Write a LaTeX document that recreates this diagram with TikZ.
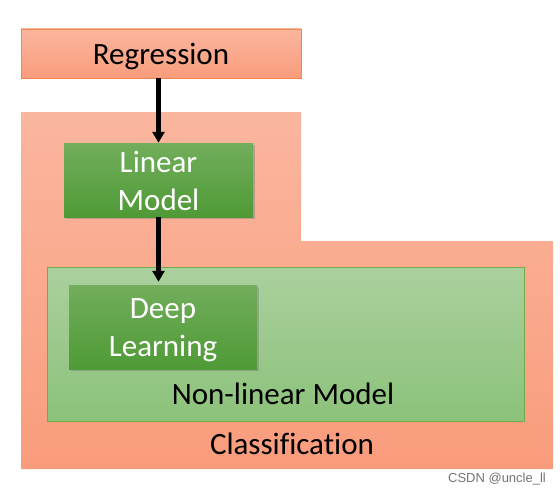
\documentclass[tikz,border=0pt]{standalone}
\usepackage{fontspec}
\setmainfont[Ligatures=NoCommon]{Carlito}
\newfontfamily\wmfont{Liberation Sans}
\usetikzlibrary{arrows.meta,shadows}
\definecolor{salTop}{HTML}{FAB69E}
\definecolor{salBot}{HTML}{F99C7C}
\definecolor{salEdge}{HTML}{F2844F}
\definecolor{grTop}{HTML}{72AE5C}
\definecolor{grBot}{HTML}{4F9A36}
\definecolor{lgTop}{HTML}{AAD09E}
\definecolor{lgBot}{HTML}{8CC27A}
\definecolor{lgEdge}{HTML}{70AD47}
\tikzset{
  bigtext/.style={font=\fontsize{31}{38}\selectfont},
  regbox/.style={draw=salEdge, line width=0.8pt, top color=salTop, bottom color=salBot, minimum width=280pt, minimum height=49pt, inner sep=0pt},
  greenbox/.style={top color=grTop, bottom color=grBot, inner sep=0pt,
     drop shadow={opacity=0.45, shadow xshift=1.5pt, shadow yshift=-2pt}},
  whitetext/.style={bigtext, text=white, align=center, inner sep=0pt},
  nlbox/.style={draw=lgEdge, line width=0.8pt, top color=lgTop, bottom color=lgBot, inner sep=0pt},
  flow/.style={line width=4.2pt, -{Triangle[width=12pt,length=11pt]}},
}
\begin{document}
\begin{tikzpicture}[x=1pt,y=-1pt]
\useasboundingbox (0,0) rectangle (560,495);
% classification L-shaped region
\shade[top color=salTop, bottom color=salBot]
  (21,112) -- (301,112) -- (301,241) -- (553,241) -- (553,469) -- (21,469) -- cycle;
\node[anchor=center, bigtext] (cls) at (292,444) {Classification};
% non-linear model box
\node[nlbox, minimum width=477pt, minimum height=154pt] (nl) at (285.5,344.5) {};
\node[bigtext] (nllabel) at (283,394) {Non-linear Model};
% regression
\node[regbox] (reg) at (161,53.5) {};
\node[bigtext, inner sep=0pt] (regtext) at (161,56.5) {Regression};
% linear model
\node[greenbox, minimum width=189pt, minimum height=74pt] (lin) at (158.5,180) {};
\node[whitetext] (lintext) at (158.5,181) {Linear\\Model};
% deep learning
\node[greenbox, minimum width=188pt, minimum height=84pt] (deep) at (163,327) {};
\node[whitetext] (deeptext) at (163,330.5) {Deep\\Learning};
% arrows
\draw[flow] (lin.north |- reg.south) -- (lin.north);
\draw[flow, shorten >=3pt] (lin.south) -- (lin.south |- deep.north);
% watermark
\node[text=black!55, font=\wmfont\fontsize{13}{15}\selectfont] (wm) at (497,479) {CSDN @uncle\_ll};
\end{tikzpicture}
\end{document}
